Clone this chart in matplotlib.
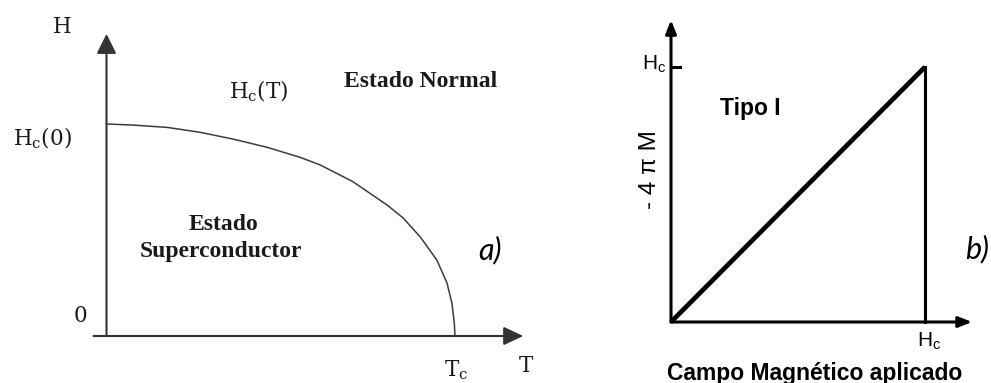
import matplotlib
matplotlib.use("Agg")
import matplotlib.pyplot as plt

# critical field curve H_c(T), in units of T_c and H_c(0)
t_red = [0, 0.076, 0.174, 0.268, 0.363, 0.461, 0.555, 0.613, 0.707, 0.805, 0.851,
         0.900, 0.948, 0.977, 0.991, 0.998, 1.0]
h_red = [1, 0.995, 0.984, 0.961, 0.929, 0.890, 0.843, 0.807, 0.728, 0.618, 0.557,
         0.468, 0.358, 0.250, 0.156, 0.061, 0.0]

# type I magnetisation: -4piM follows H up to H_c, then drops to zero
h_applied = [0, 1]
m_neg = [0, 1]
h_drop = [1, 1]
m_drop = [1, 0]

W, H = 991, 383
fig = plt.figure(figsize=(W / 100, H / 100), dpi=100)


def px_axes(x0, y0, x1, y1):
    # axes whose (0,0)-(1,1) box sits on the given pixel corners (origin, top-right)
    ax = fig.add_axes([x0 / W, (H - y0) / H, (x1 - x0) / W, (y0 - y1) / H])
    ax.set_xlim(0, 1)
    ax.set_ylim(0, 1)
    ax.axis("off")
    return ax


def arrow(ax, start, end, lw, color, hl, hw):
    ax.annotate("", xy=end, xytext=start, annotation_clip=False,
                arrowprops=dict(arrowstyle=f"-|>,head_length={hl},head_width={hw}",
                                mutation_scale=20, lw=lw, color=color,
                                shrinkA=0, shrinkB=0))


# ---- a) phase diagram ----
ax1 = px_axes(106.5, 336, 455, 124)
grey = "#333333"
arrow(ax1, (-0.037, 0), (1.196, 0), 1.5, grey, 0.6, 0.28)
arrow(ax1, (0, 0), (0, 1.425), 1.5, grey, 0.6, 0.3)
ax1.plot(t_red, h_red, color="#3c3c3c", lw=1.1, clip_on=False)

serif = dict(family="DejaVu Serif", fontsize=15.5, color="#1a1a1a")
ax1.text(-0.126, 1.427, "H", ha="center", va="baseline", **serif)
ax1.text(-0.267, 0.897, r"$\mathregular{H_c(0)}$", ha="left", va="baseline", **serif)
ax1.text(0.351, 1.122, r"$\mathregular{H_c(T)}$", ha="left", va="baseline", **serif)
ax1.text(-0.075, 0.066, "0", ha="center", va="baseline", **serif)
ax1.text(1.204, -0.169, "T", ha="center", va="baseline", **serif)
ax1.text(0.968, -0.192, r"$\mathregular{T_c}$", ha="left", va="baseline", **serif)

bold_serif = dict(family="Liberation Serif", fontweight="bold", fontsize=17, color="#1a1a1a")
ax1.text(0.681, 1.174, "Estado Normal", ha="left", va="baseline", **bold_serif)
ax1.text(0.336, 0.498, "Estado", ha="center", va="baseline", **bold_serif)
ax1.text(0.328, 0.371, "Superconductor", ha="center", va="baseline", **bold_serif)

ax1.text(1.066, 0.362, "a)", ha="left", va="baseline", family=["Lato", "Open Sans"],
         style="italic", fontsize=22, color="black")

# ---- b) magnetisation curve ----
ax2 = px_axes(671, 322, 925, 67)
arrow(ax2, (0, 0), (1.185, 0), 2.2, "black", 0.4, 0.16)
arrow(ax2, (0, 0), (0, 1.184), 2.2, "black", 0.4, 0.16)
ax2.plot([0, 0.035], [1, 1], color="black", lw=2.2, clip_on=False)
ax2.plot(h_applied, m_neg, color="black", lw=3.4, clip_on=False, solid_capstyle="butt")
ax2.plot(h_drop, m_drop, color="black", lw=2.2, clip_on=False)

sans = dict(family="Liberation Sans", color="black")
ax2.text(-0.02, 0.988, r"$\mathregular{H_c}$", ha="right", va="baseline", fontsize=15, **sans)
ax2.text(0.969, -0.098, r"$\mathregular{H_c}$", ha="left", va="baseline", fontsize=15, **sans)
ax2.text(-0.083, 0.596, "- 4 π M", ha="center", va="center", rotation=90, fontsize=17.5, **sans)
ax2.text(0.193, 0.812, "Tipo I", ha="left", va="baseline", fontsize=16.5, fontweight="bold", **sans)
ax2.text(0.567, -0.227, "Campo Magnético aplicado", ha="center", va="baseline",
         fontsize=16.5, fontweight="bold", **sans)
ax2.text(1.157, 0.251, "b)", ha="left", va="baseline", family=["Lato", "Open Sans"],
         style="italic", fontsize=22, color="black")

fig.savefig("out.png", dpi=100, facecolor="white")
